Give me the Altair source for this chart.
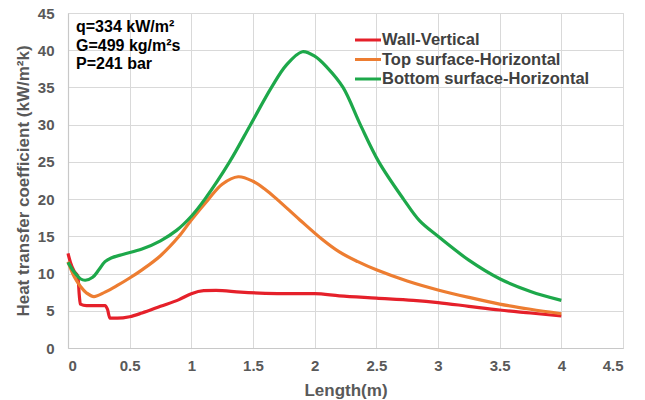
import altair as alt
import pandas as pd

# ---- data ----
wall_x = [0.0, 0.02, 0.05, 0.08, 0.092, 0.1, 0.15, 0.2, 0.3, 0.32, 0.34, 0.4, 0.5, 0.6, 0.75, 0.9, 1.0,
          1.1, 1.2, 1.4, 1.6, 1.8, 2.0, 2.2, 2.5, 2.8, 3.0, 3.25, 3.5, 3.75, 4.0]
wall_y = [12.7, 11.5, 10.3, 9.6, 7.0, 5.9, 5.7, 5.7, 5.7, 5.2, 4.0, 4.0, 4.2, 4.7, 5.6, 6.5, 7.3,
          7.7, 7.75, 7.5, 7.35, 7.3, 7.3, 7.0, 6.7, 6.4, 6.1, 5.6, 5.1, 4.7, 4.3]

top_x = [0.0, 0.05, 0.1, 0.15, 0.21, 0.3, 0.4, 0.5, 0.6, 0.75, 0.9, 1.0, 1.14, 1.25, 1.38, 1.5,
         1.6, 1.7, 1.88, 2.06, 2.2, 2.35, 2.5, 2.75, 3.0, 3.25, 3.5, 3.75, 4.0]
top_y = [11.6, 9.6, 8.3, 7.4, 6.9, 7.5, 8.4, 9.4, 10.5, 12.4, 15.0, 17.2, 20.0, 22.0, 23.0, 22.4,
         21.3, 19.9, 17.2, 14.6, 12.9, 11.6, 10.5, 9.0, 7.8, 6.8, 5.9, 5.2, 4.6]

bot_x = [0.0, 0.05, 0.1, 0.14, 0.2, 0.25, 0.3, 0.35, 0.45, 0.6, 0.75, 0.88, 1.0, 1.11, 1.31, 1.48,
         1.65, 1.77, 1.9, 2.0, 2.1, 2.23, 2.37, 2.52, 2.72, 2.85, 3.0, 3.25, 3.5, 3.75, 4.0]
bot_y = [11.5, 10.2, 9.3, 9.1, 9.5, 10.5, 11.6, 12.1, 12.6, 13.3, 14.4, 15.8, 17.7, 20.0, 25.0, 30.0,
         35.0, 38.0, 39.8, 39.2, 37.7, 35.0, 30.0, 25.0, 20.0, 17.1, 15.0, 11.8, 9.3, 7.6, 6.4]

series_names = ["Wall-Vertical", "Top surface-Horizontal", "Bottom surface-Horizontal"]
series_colors = ["#E5202A", "#ED7D31", "#1DA84A"]
series_interp = ["monotone", "catmull-rom", "catmull-rom"]
x_ticks = [0, 0.5, 1, 1.5, 2, 2.5, 3, 3.5, 4, 4.5]
y_ticks = [0, 5, 10, 15, 20, 25, 30, 35, 40, 45]
annotation = "q=334 kW/m²\nG=499 kg/m²s\nP=241 bar"

FONT = "Liberation Sans"
GRAY = "#595959"

xscale = alt.Scale(domain=[0, 4.5], nice=False, zero=False)
yscale = alt.Scale(domain=[0, 45], nice=False)
cscale = alt.Scale(domain=series_names, range=series_colors)

layers = []
for idx, (name, xs, ys, interp) in enumerate(zip(series_names, [wall_x, top_x, bot_x],
                                                 [wall_y, top_y, bot_y], series_interp)):
    d = pd.DataFrame({"x": xs, "y": ys, "series": name, "order": range(len(xs))})
    enc = dict(
        x=alt.X("x:Q", scale=xscale,
                axis=alt.Axis(values=x_ticks, format="~g", title="Length(m)", grid=True,
                              ticks=False, labelPadding=10, titlePadding=9)),
        y=alt.Y("y:Q", scale=yscale,
                axis=alt.Axis(values=y_ticks, title="Heat transfer coefficient (kW/m²k)", grid=True,
                              ticks=False, labelPadding=14, titlePadding=5)),
        color=alt.Color("series:N", scale=cscale, legend=None),
        order="order:Q",
    )
    layers.append(alt.Chart(d).mark_line(strokeWidth=3.2, interpolate=interp).encode(**enc))

# annotation text
layers.append(
    alt.Chart(pd.DataFrame({"t": [annotation]})).mark_text(
        align="left", baseline="top", font=FONT, fontSize=16, fontWeight="bold",
        color="#000000", lineBreak="\n", lineHeight=18.5
    ).encode(x=alt.value(8), y=alt.value(6), text="t:N")
)

# legend drawn manually
for i, (name, col) in enumerate(zip(series_names, series_colors)):
    yy = 27 + i * 19.5
    layers.append(
        alt.Chart(pd.DataFrame({"n": [name]})).mark_rule(color=col, strokeWidth=3).encode(
            x=alt.value(287), x2=alt.value(313), y=alt.value(yy)
        )
    )
    layers.append(
        alt.Chart(pd.DataFrame({"n": [name]})).mark_text(
            align="left", baseline="middle", font=FONT, fontSize=16.5, fontWeight="bold", color="#404040"
        ).encode(x=alt.value(314), y=alt.value(yy), text="n:N")
    )

chart = alt.layer(*layers).properties(
    width=555, height=335,
    padding={"left": 68, "top": 13, "right": 22, "bottom": 52},
    autosize="none",
    background="white",
).configure_view(
    stroke="#d9d9d9", strokeWidth=1
).configure_axis(
    gridColor="#d9d9d9", gridWidth=1, domainColor="#c8c8c8", domainWidth=1.2,
    labelFont=FONT, labelFontSize=15, labelFontWeight="bold", labelColor=GRAY,
    titleFont=FONT, titleFontSize=17, titleFontWeight="bold", titleColor=GRAY,
)

chart.save("out.html", embed_options={"renderer": "svg", "actions": False})
